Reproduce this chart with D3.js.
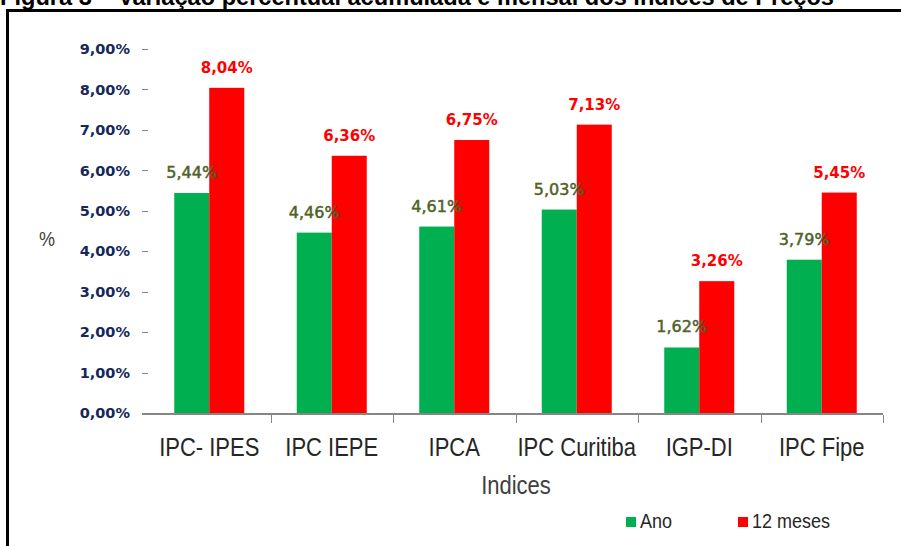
<!DOCTYPE html>
<html>
<head>
<meta charset="utf-8">
<script src="https://cdn.jsdelivr.net/npm/d3@7"></script>
<style>
  body { margin: 0; background: #fff; }
  svg { display: block; }
</style>
</head>
<body>
<svg id="chart"></svg>
<script>
// Data
const categories = ["IPC- IPES", "IPC IEPE", "IPCA", "IPC Curitiba", "IGP-DI", "IPC Fipe"];
const ano = [5.44, 4.46, 4.61, 5.03, 1.62, 3.79];
const dozeMeses = [8.04, 6.36, 6.75, 7.13, 3.26, 5.45];
const seriesNames = ["Ano", "12 meses"];
const yTicks = [0, 1, 2, 3, 4, 5, 6, 7, 8, 9];

(() => {
    const width = 901;
    const height = 546;
    const green = "#00b050";
    const red = "#ff0000";
    const sans = "'Liberation Sans', Arial, sans-serif";
    const verdana = "'DejaVu Sans', Verdana, sans-serif";

    const svg = d3.select("#chart")
        .attr("width", width)
        .attr("height", height);

    const fmt = v => v.toFixed(2).replace(".", ",") + "%";

    // Condensed-looking text: stretch taller than wide
    function narrowText(sel, px, py, size, sx) {
        return sel.append("g")
            .attr("transform", `translate(${px},${py}) scale(${sx},1)`)
            .append("text")
            .attr("font-family", sans)
            .attr("font-size", size);
    }

    // Title (cut off at the top in the original)
    svg.append("text")
        .attr("x", 0)
        .attr("y", 5)
        .attr("font-family", sans)
        .attr("font-weight", "bold")
        .attr("font-size", 23.6)
        .attr("fill", "#000")
        .text("Figura 3 – Variação percentual acumulada e mensal dos índices de Preços");

    // Frame
    svg.append("rect")
        .attr("x", 7.5)
        .attr("y", 10.5)
        .attr("width", 1000)
        .attr("height", 1000)
        .attr("fill", "none")
        .attr("stroke", "#000")
        .attr("stroke-width", 3);

    // Scales
    const x = d3.scaleBand()
        .domain(categories)
        .range([148, 883]);

    const y = d3.scaleLinear()
        .domain([0, 9])
        .range([413, 49]);

    const barW = 35;

    // Y ticks and labels
    const yAxis = svg.append("g");
    yAxis.selectAll("line")
        .data(yTicks.slice(1))
        .join("line")
        .attr("x1", 142).attr("x2", 148)
        .attr("y1", d => Math.round(y(d)) + 0.5)
        .attr("y2", d => Math.round(y(d)) + 0.5)
        .attr("stroke", "#868686");
    yAxis.selectAll("text")
        .data(yTicks)
        .join("text")
        .attr("x", 130)
        .attr("y", d => y(d))
        .attr("dy", "0.36em")
        .attr("text-anchor", "end")
        .attr("font-family", verdana)
        .attr("font-weight", "bold")
        .attr("font-size", 14.5)
        .attr("fill", "#14285a")
        .text(d => fmt(d));

    // Bars
    const groups = svg.append("g").selectAll("g")
        .data(categories)
        .join("g")
        .attr("transform", d => `translate(${x(d) + x.bandwidth() / 2},0)`);

    groups.append("rect")
        .attr("x", -barW)
        .attr("y", (d, i) => y(ano[i]))
        .attr("width", barW)
        .attr("height", (d, i) => y(0) - y(ano[i]))
        .attr("fill", green);

    groups.append("rect")
        .attr("x", 0)
        .attr("y", (d, i) => y(dozeMeses[i]))
        .attr("width", barW)
        .attr("height", (d, i) => y(0) - y(dozeMeses[i]))
        .attr("fill", red);

    // Data labels
    groups.append("text")
        .attr("x", -barW / 2)
        .attr("y", (d, i) => y(ano[i]) - 15)
        .attr("text-anchor", "middle")
        .attr("font-family", verdana)
        .attr("font-size", 16)
        .attr("fill", "#4f6228")
        .attr("stroke", "#4f6228")
        .attr("stroke-width", 0.5)
        .text((d, i) => fmt(ano[i]));

    groups.append("text")
        .attr("x", barW / 2)
        .attr("y", (d, i) => y(dozeMeses[i]) - 15)
        .attr("text-anchor", "middle")
        .attr("font-family", verdana)
        .attr("font-weight", "bold")
        .attr("font-size", 15)
        .attr("fill", red)
        .text((d, i) => fmt(dozeMeses[i]));

    // X axis
    svg.append("line")
        .attr("x1", 142).attr("x2", 883)
        .attr("y1", 414).attr("y2", 414)
        .attr("stroke", "#868686")
        .attr("stroke-width", 2);

    svg.append("g").selectAll("line")
        .data(categories)
        .join("line")
        .attr("x1", d => Math.round(x(d) + x.bandwidth()) + 0.5)
        .attr("x2", d => Math.round(x(d) + x.bandwidth()) + 0.5)
        .attr("y1", 415).attr("y2", 423)
        .attr("stroke", "#868686");

    const xLabels = svg.append("g");
    categories.forEach(c => {
        narrowText(xLabels, x(c) + x.bandwidth() / 2, 456, 25, 0.88)
            .attr("text-anchor", "middle")
            .attr("fill", "#262626")
            .text(c);
    });

    // Axis titles
    narrowText(svg, 516, 494, 25, 0.88)
        .attr("text-anchor", "middle")
        .attr("fill", "#404040")
        .text("Indices");

    narrowText(svg, 47, 246, 20, 0.9)
        .attr("text-anchor", "middle")
        .attr("fill", "#404040")
        .text("%");

    // Legend
    const legendX = [626, 738];
    const legend = svg.append("g").selectAll("g")
        .data(seriesNames)
        .join("g")
        .attr("transform", (d, i) => `translate(${legendX[i]},517)`);
    legend.append("rect")
        .attr("width", 10).attr("height", 10)
        .attr("fill", (d, i) => i === 0 ? green : red);
    legend.each(function (d) {
        narrowText(d3.select(this), 14, 11, 20, 0.9)
            .attr("fill", "#262626")
            .text(d);
    });
})();
</script>
</body>
</html>
